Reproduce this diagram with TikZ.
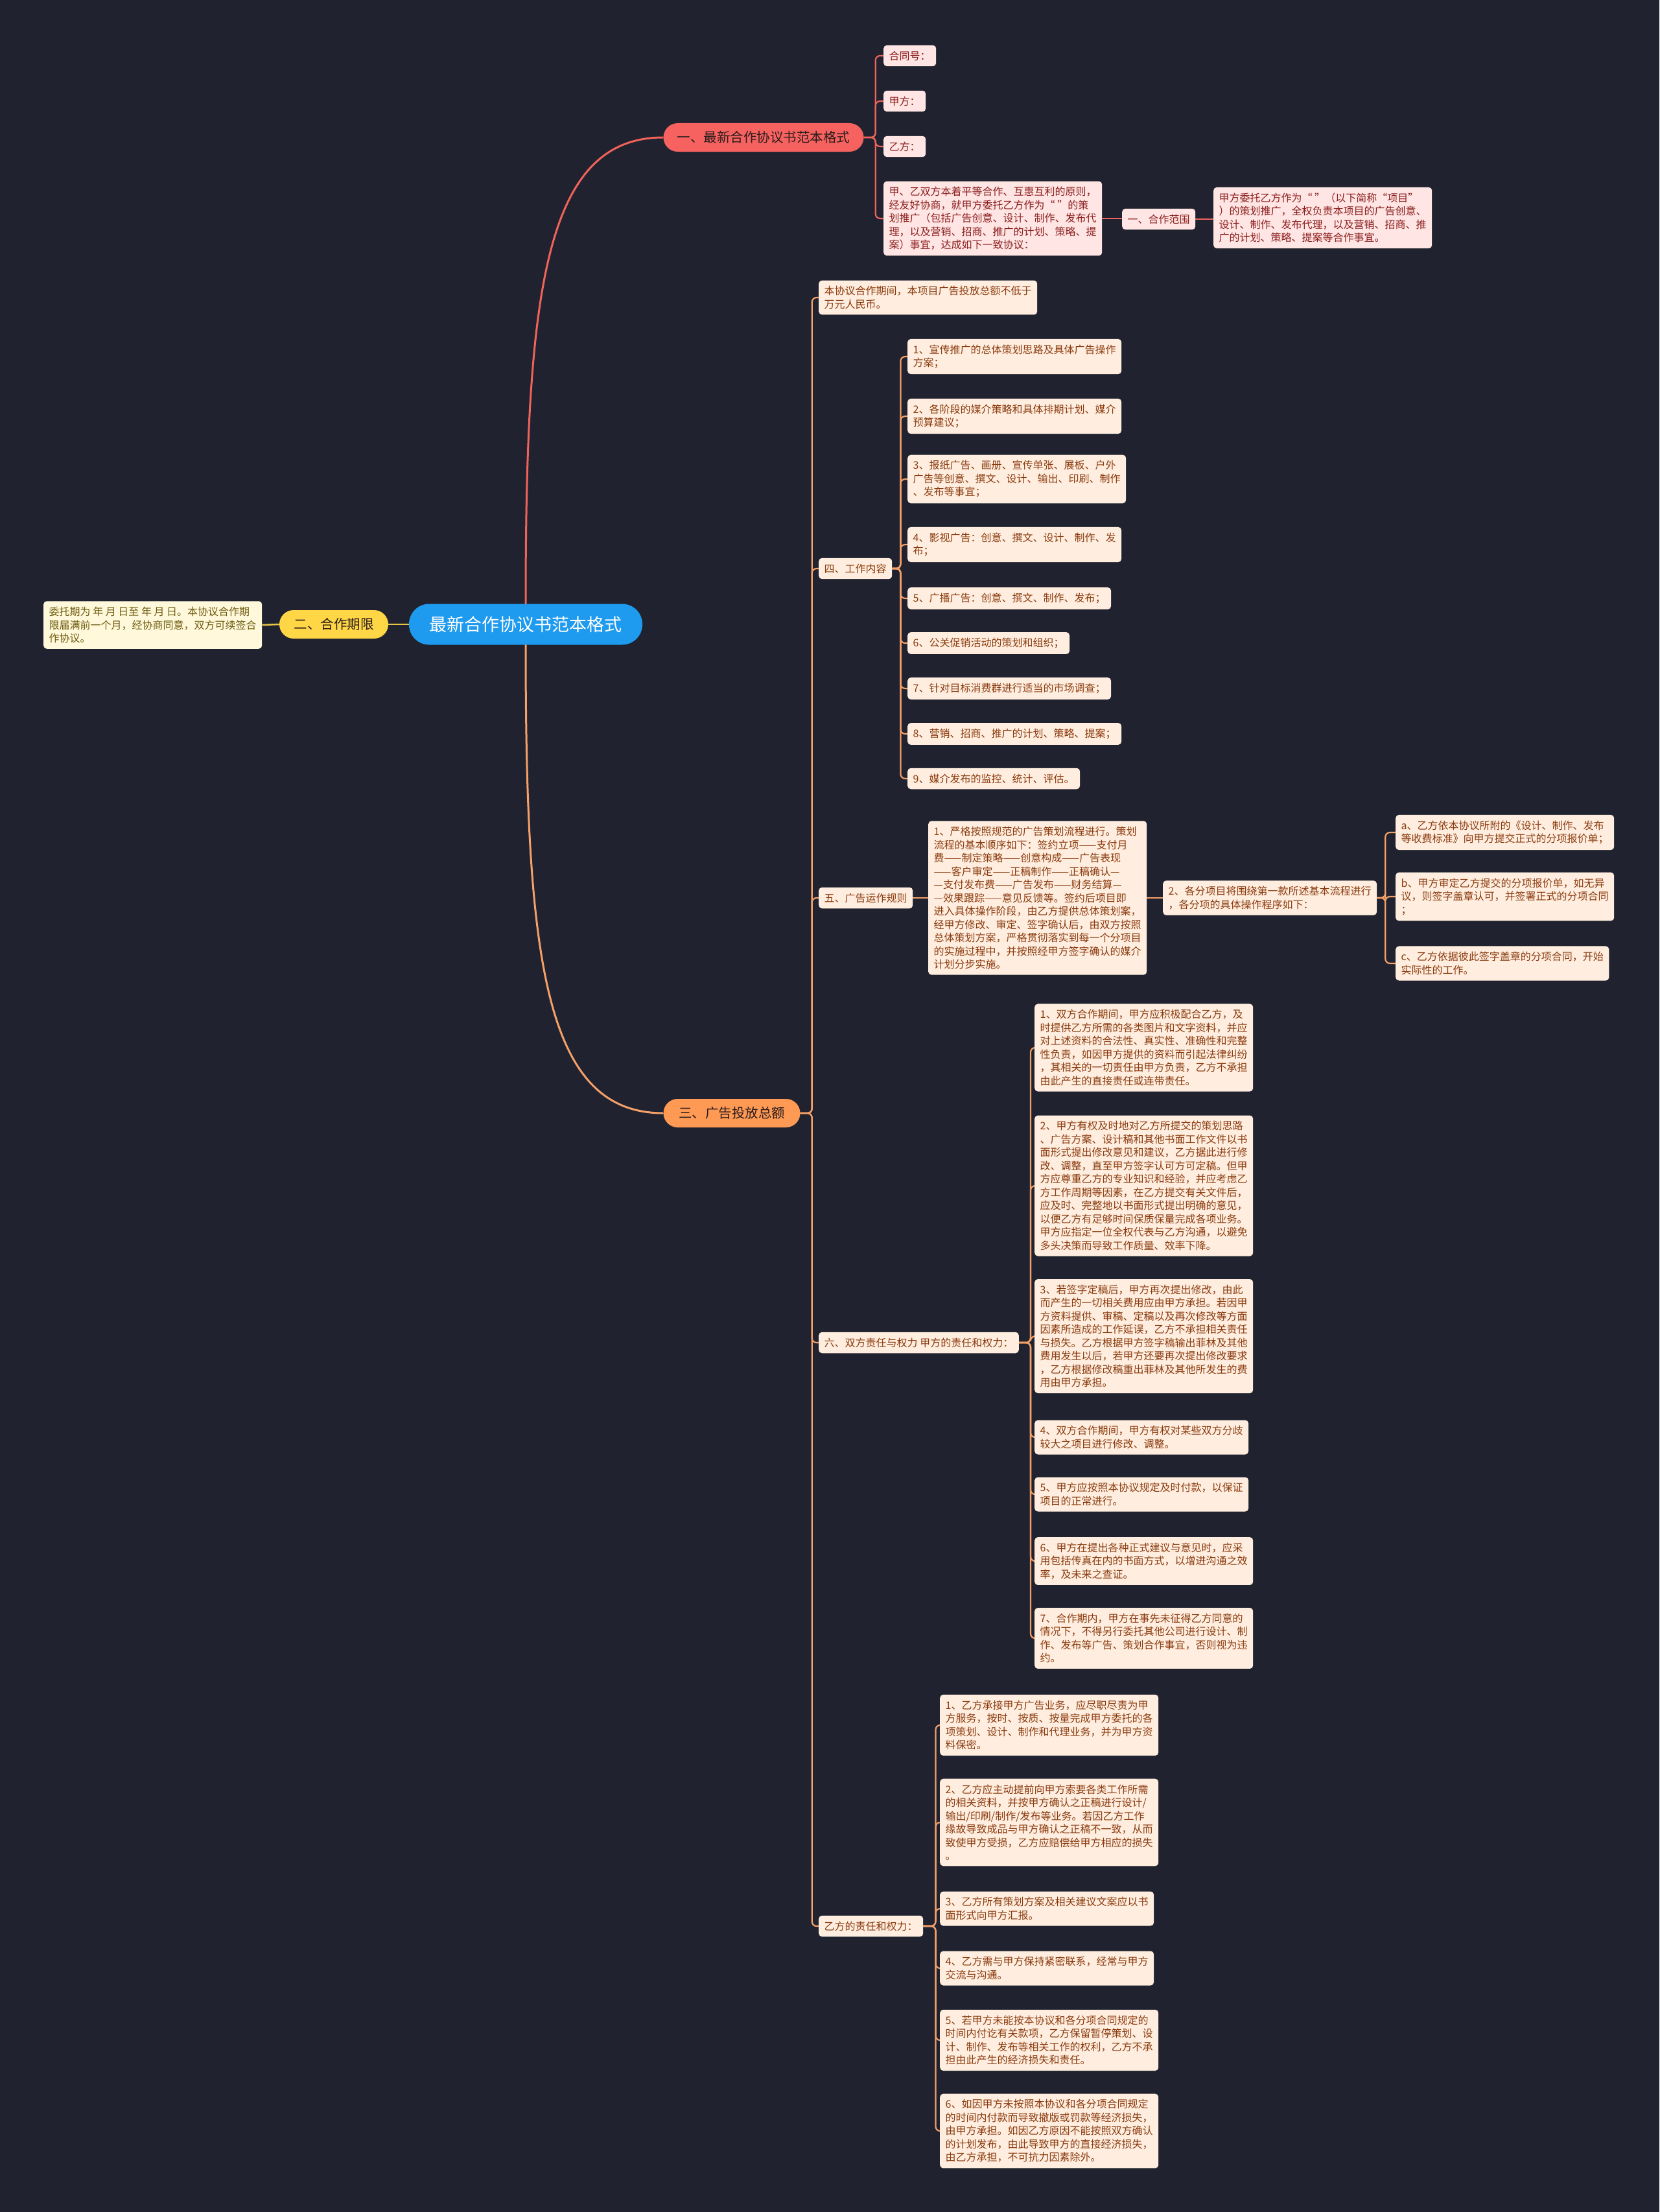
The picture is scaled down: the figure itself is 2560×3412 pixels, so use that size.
\documentclass[tikz,border=0pt]{standalone}
\usepackage{fontspec}
\setmainfont{Noto Sans CJK SC}
\usetikzlibrary{positioning}
\definecolor{bgcol}{HTML}{20232F}
\definecolor{rootblue}{HTML}{1E9AEE}
\definecolor{redmain}{HTML}{F5625F}
\definecolor{ylmain}{HTML}{FFD645}
\definecolor{ormain}{HTML}{FF9A55}
\definecolor{redline}{HTML}{F0635A}
\definecolor{ylline}{HTML}{E8C547}
\definecolor{orline}{HTML}{F4A068}
\definecolor{redfill}{HTML}{FFE5E3}
\definecolor{redtext}{HTML}{8A1E1E}
\definecolor{orfill}{HTML}{FFEEDF}
\definecolor{ortext}{HTML}{8A3A0E}
\definecolor{ylfill}{HTML}{FFF8DA}
\definecolor{yltext}{HTML}{6E5C10}
\definecolor{darktext}{HTML}{2B1C1C}
\pgfdeclarelayer{bg}
\pgfdeclarelayer{edges}
\pgfsetlayers{bg,edges,main}

\begin{document}
\begin{tikzpicture}[x=1pt,y=-1pt,
    rootnode/.style={fill=rootblue, text=white, rounded corners=31pt,
        minimum width=360pt, minimum height=63pt,
        font=\fontsize{27}{32}\selectfont},
    mainnode/.style={rounded corners=22pt, minimum height=44pt,
        text=darktext, font=\fontsize{20.5}{24}\selectfont},
    leaf/.style={anchor=west, rounded corners=5pt, inner xsep=8.5pt,
        inner ysep=8.8pt, align=left, font=\fontsize{16}{20.5}\selectfont},
    redleaf/.style={leaf, fill=redfill, text=redtext},
    orleaf/.style={leaf, fill=orfill, text=ortext},
    ylleaf/.style={leaf, fill=ylfill, text=yltext},
    redlink/.style={draw=redline, line width=2.2pt, rounded corners=7pt},
    orlink/.style={draw=orline, line width=2.2pt, rounded corners=7pt},
    yllink/.style={draw=ylline, line width=2.5pt}
  ]
  \begin{pgfonlayer}{bg}
    \fill[bgcol] (0,0) rectangle (2560,3412);
  \end{pgfonlayer}
  \useasboundingbox (0,0) rectangle (2560,3412);

  % centre and main branches
  \node[rootnode] (root) at (811,963) {最新合作协议书范本格式};
  \node[mainnode, fill=redmain, minimum width=309pt] (yi) at (1178,212) {一、最新合作协议书范本格式};
  \node[mainnode, fill=ylmain, minimum width=168pt] (er) at (515,963) {二、合作期限};
  \node[mainnode, fill=ormain, minimum width=211pt] (san) at (1129,1717) {三、广告投放总额};

  % 二
  \node[ylleaf] (qx) at (67,964) {委托期为 年 月 日至 年 月 日。本协议合作期\\限届满前一个月，经协商同意，双方可续签合\\作协议。};

  % 一
  \node[redleaf] (ht) at (1363,86) {合同号：};
  \node[redleaf] (jf) at (1363,156) {甲方：};
  \node[redleaf] (yf) at (1363,226) {乙方：};
  \node[redleaf] (yx) at (1363,337) {甲、乙双方本着平等合作、互惠互利的原则，\\经友好协商，就甲方委托乙方作为“ ”的策\\划推广（包括广告创意、设计、制作、发布代\\理，以及营销、招商、推广的计划、策略、提\\案）事宜，达成如下一致协议：};
  \node[redleaf] (fw) at (1731,338) {一、合作范围};
  \node[redleaf] (fwd) at (1872,336) {甲方委托乙方作为“ ”（以下简称“项目”\\）的策划推广，全权负责本项目的广告创意、\\设计、制作、发布代理，以及营销、招商、推\\广的计划、策略、提案等合作事宜。};

  % 三
  \node[orleaf] (tf) at (1263,459) {本协议合作期间，本项目广告投放总额不低于\\ 万元人民币。};
  \node[orleaf] (gz) at (1263,877) {四、工作内容};
  \node[orleaf] (gz1) at (1400,550) {1、宣传推广的总体策划思路及具体广告操作\\方案；};
  \node[orleaf] (gz2) at (1400,642) {2、各阶段的媒介策略和具体排期计划、媒介\\预算建议；};
  \node[orleaf] (gz3) at (1400,739) {3、报纸广告、画册、宣传单张、展板、户外\\广告等创意、撰文、设计、输出、印刷、制作\\、发布等事宜；};
  \node[orleaf] (gz4) at (1400,840) {4、影视广告：创意、撰文、设计、制作、发\\布；};
  \node[orleaf] (gz5) at (1400,923) {5、广播广告：创意、撰文、制作、发布；};
  \node[orleaf] (gz6) at (1400,992) {6、公关促销活动的策划和组织；};
  \node[orleaf] (gz7) at (1400,1062) {7、针对目标消费群进行适当的市场调查；};
  \node[orleaf] (gz8) at (1400,1132) {8、营销、招商、推广的计划、策略、提案；};
  \node[orleaf] (gz9) at (1400,1201) {9、媒介发布的监控、统计、评估。};

  \node[orleaf] (gg) at (1263,1385) {五、广告运作规则};
  \node[orleaf] (gg1) at (1432,1385) {1、严格按照规范的广告策划流程进行。策划\\流程的基本顺序如下：签约立项——支付月\\费——制定策略——创意构成——广告表现\\——客户审定——正稿制作——正稿确认—\\—支付发布费——广告发布——财务结算—\\—效果跟踪——意见反馈等。签约后项目即\\进入具体操作阶段，由乙方提供总体策划案，\\经甲方修改、审定、签字确认后，由双方按照\\总体策划方案，严格贯彻落实到每一个分项目\\的实施过程中，并按照经甲方签字确认的媒介\\计划分步实施。};
  \node[orleaf] (gg2) at (1794,1385) {2、各分项目将围绕第一款所述基本流程进行\\，各分项的具体操作程序如下：};
  \node[orleaf] (gga) at (2153,1284) {a、乙方依本协议所附的《设计、制作、发布\\等收费标准》向甲方提交正式的分项报价单；};
  \node[orleaf] (ggb) at (2153,1383) {b、甲方审定乙方提交的分项报价单，如无异\\议，则签字盖章认可，并签署正式的分项合同\\；};
  \node[orleaf] (ggc) at (2153,1486) {c、乙方依据彼此签字盖章的分项合同，开始\\实际性的工作。};

  \node[orleaf] (jz) at (1263,2071) {六、双方责任与权力 甲方的责任和权力：};
  \node[orleaf] (jz1) at (1596,1616) {1、双方合作期间，甲方应积极配合乙方，及\\时提供乙方所需的各类图片和文字资料，并应\\对上述资料的合法性、真实性、准确性和完整\\性负责，如因甲方提供的资料而引起法律纠纷\\，其相关的一切责任由甲方负责，乙方不承担\\由此产生的直接责任或连带责任。};
  \node[orleaf] (jz2) at (1596,1829) {2、甲方有权及时地对乙方所提交的策划思路\\、广告方案、设计稿和其他书面工作文件以书\\面形式提出修改意见和建议，乙方据此进行修\\改、调整，直至甲方签字认可方可定稿。但甲\\方应尊重乙方的专业知识和经验，并应考虑乙\\方工作周期等因素，在乙方提交有关文件后，\\应及时、完整地以书面形式提出明确的意见，\\以便乙方有足够时间保质保量完成各项业务。\\甲方应指定一位全权代表与乙方沟通，以避免\\多头决策而导致工作质量、效率下降。};
  \node[orleaf] (jz3) at (1596,2061) {3、若签字定稿后，甲方再次提出修改，由此\\而产生的一切相关费用应由甲方承担。若因甲\\方资料提供、审稿、定稿以及再次修改等方面\\因素所造成的工作延误，乙方不承担相关责任\\与损失。乙方根据甲方签字稿输出菲林及其他\\费用发生以后，若甲方还要再次提出修改要求\\，乙方根据修改稿重出菲林及其他所发生的费\\用由甲方承担。};
  \node[orleaf] (jz4) at (1596,2217) {4、双方合作期间，甲方有权对某些双方分歧\\较大之项目进行修改、调整。};
  \node[orleaf] (jz5) at (1596,2305) {5、甲方应按照本协议规定及时付款，以保证\\项目的正常进行。};
  \node[orleaf] (jz6) at (1596,2408) {6、甲方在提出各种正式建议与意见时，应采\\用包括传真在内的书面方式，以增进沟通之效\\率，及未来之查证。};
  \node[orleaf] (jz7) at (1596,2527) {7、合作期内，甲方在事先未征得乙方同意的\\情况下，不得另行委托其他公司进行设计、制\\作、发布等广告、策划合作事宜，否则视为违\\约。};

  \node[orleaf] (yz) at (1263,2971) {乙方的责任和权力：};
  \node[orleaf] (yz1) at (1450,2661) {1、乙方承接甲方广告业务，应尽职尽责为甲\\方服务，按时、按质、按量完成甲方委托的各\\项策划、设计、制作和代理业务，并为甲方资\\料保密。};
  \node[orleaf] (yz2) at (1450,2811) {2、乙方应主动提前向甲方索要各类工作所需\\的相关资料，并按甲方确认之正稿进行设计/\\输出/印刷/制作/发布等业务。若因乙方工作\\缘故导致成品与甲方确认之正稿不一致，从而\\致使甲方受损，乙方应赔偿给甲方相应的损失\\。};
  \node[orleaf] (yz3) at (1450,2944) {3、乙方所有策划方案及相关建议文案应以书\\面形式向甲方汇报。};
  \node[orleaf] (yz4) at (1450,3036) {4、乙方需与甲方保持紧密联系，经常与甲方\\交流与沟通。};
  \node[orleaf] (yz5) at (1450,3147) {5、若甲方未能按本协议和各分项合同规定的\\时间内付讫有关款项，乙方保留暂停策划、设\\计、制作、发布等相关工作的权利，乙方不承\\担由此产生的经济损失和责任。};
  \node[orleaf] (yz6) at (1450,3287) {6、如因甲方未按照本协议和各分项合同规定\\的时间内付款而导致撤版或罚款等经济损失，\\由甲方承担。如因乙方原因不能按照双方确认\\的计划发布，由此导致甲方的直接经济损失，\\由乙方承担，不可抗力因素除外。};

  \begin{pgfonlayer}{edges}
    % main curves from the centre
    \draw[redline, line width=3pt] (root.center) -- (root.north)
      .. controls (811,450) and (840,212) .. (yi.west);
    \draw[orline, line width=3pt] (root.center) -- (root.south)
      .. controls (811,1480) and (840,1717) .. (san.west);
    \draw[yllink] (root.west) -- (er.east);
    \draw[yllink] (er.west) -- (qx.east);

    \foreach \c in {ht,jf,yf,yx}
      \draw[redlink] (yi.east) -- ++(18,0) |- (\c.west);
    \draw[redlink] (yx.east) -- (yx.east -| fw.west);
    \draw[redlink] (fw.east) -- (fw.east -| fwd.west);

    \foreach \c in {tf,gz,gg,jz,yz}
      \draw[orlink] (san.east) -- ++(18,0) |- (\c.west);
    \foreach \c in {gz1,gz2,gz3,gz4,gz5,gz6,gz7,gz8,gz9}
      \draw[orlink] (gz.east) -- ++(13,0) |- (\c.west);
    \draw[orlink] (gg.east) -- (gg1.west);
    \draw[orlink] (gg1.east) -- (gg2.west);
    \foreach \c in {gga,ggb,ggc}
      \draw[orlink] (gg2.east) -- ++(13,0) |- (\c.west);
    \foreach \c in {jz1,jz2,jz3,jz4,jz5,jz6,jz7}
      \draw[orlink] (jz.east) -- ++(18,0) |- (\c.west);
    \foreach \c in {yz1,yz2,yz3,yz4,yz5,yz6}
      \draw[orlink] (yz.east) -- ++(19,0) |- (\c.west);
  \end{pgfonlayer}
\end{tikzpicture}
\end{document}
